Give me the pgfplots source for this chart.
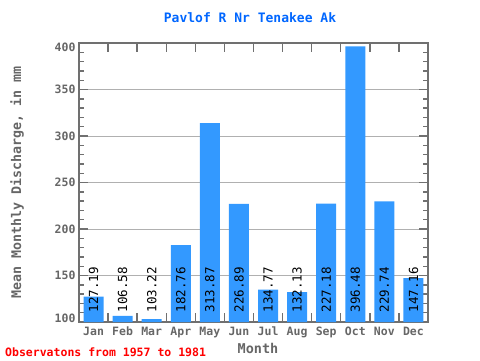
\documentclass[border=0pt]{standalone}
\usepackage{pgfplots}
\pgfplotsset{compat=1.18}
\usepackage{fontspec}
\newfontfamily\mono{DejaVu Sans Mono}
\definecolor{barblue}{RGB}{51,153,255}
\definecolor{titleblue}{RGB}{0,102,255}
\definecolor{axgray}{RGB}{112,112,112}
\definecolor{labgray}{RGB}{102,102,102}
\definecolor{gridgray}{RGB}{176,176,176}
\begin{document}
\begin{tikzpicture}
\useasboundingbox (0pt,0pt) rectangle (480pt,360pt);
\begin{axis}[
  at={(79pt,38pt)}, anchor=south west,
  scale only axis, width=349pt, height=279pt,
  xmin=-0.5, xmax=11.5, ymin=100, ymax=400,
  axis line style={axgray, line width=1.6pt},
  every tick/.style={axgray, line width=1.4pt},
  xtick={0.5,1.5,...,10.5},
  xticklabels={},
  extra x ticks={0,...,11},
  extra x tick labels={Jan,Feb,Mar,Apr,May,Jun,Jul,Aug,Sep,Oct,Nov,Dec},
  extra x tick style={grid=none, major tick length=0pt,
    xticklabel style={anchor=north, text height=8.5pt, text depth=2.5pt, yshift=-1pt}},
  ytick={100,150,...,400},
  yticklabels={\raisebox{4pt}[\height][\depth]{100},150,200,250,300,350,\raisebox{-4pt}[\height][\depth]{400}},
  minor ytick={110,120,...,400},
  major tick length=9pt, minor tick length=5pt,
  ymajorgrids, grid style={gridgray, line width=0.8pt},
  tick label style={font=\mono\bfseries\fontsize{11.5}{12}\selectfont, text=labgray},
  /pgf/number format/assume math mode=true,
  clip=true,
]
\addplot[ybar, bar width=20pt, bar shift=0pt, fill=barblue, draw=none] coordinates {
 (0,127.19) (1,106.58) (2,103.22) (3,182.76) (4,313.87) (5,226.89)
 (6,134.77) (7,132.13) (8,227.18) (9,396.48) (10,229.74) (11,147.16)};
\addplot[draw=none, mark=none, nodes near coords, point meta=explicit symbolic,
  nodes near coords style={rotate=90, anchor=west, inner sep=0pt, text=black,
  font=\mono\fontsize{12.5}{12.5}\selectfont}] coordinates {
 (0,110)[127.19] (1,110)[106.58] (2,110)[103.22] (3,110)[182.76] (4,110)[313.87] (5,110)[226.89]
 (6,110)[134.77] (7,110)[132.13] (8,110)[227.18] (9,110)[396.48] (10,110)[229.74] (11,110)[147.16]};
\end{axis}
\node[font=\mono\bfseries\fontsize{13}{13}\selectfont, text=titleblue] at (250pt,342pt) {Pavlof R Nr Tenakee Ak};
\node[rotate=90, font=\mono\bfseries\fontsize{13.3}{13.3}\selectfont, text=labgray] at (17pt,177.5pt) {Mean Monthly Discharge, in mm};
\node[font=\mono\bfseries\fontsize{13.5}{13.5}\selectfont, text=labgray] at (258pt,12pt) {Month};
\node[anchor=west, inner sep=0pt, font=\mono\bfseries\fontsize{11.5}{11.5}\selectfont, text=red] at (5pt,8pt) {Observatons from 1957 to 1981};
\end{tikzpicture}
\end{document}
